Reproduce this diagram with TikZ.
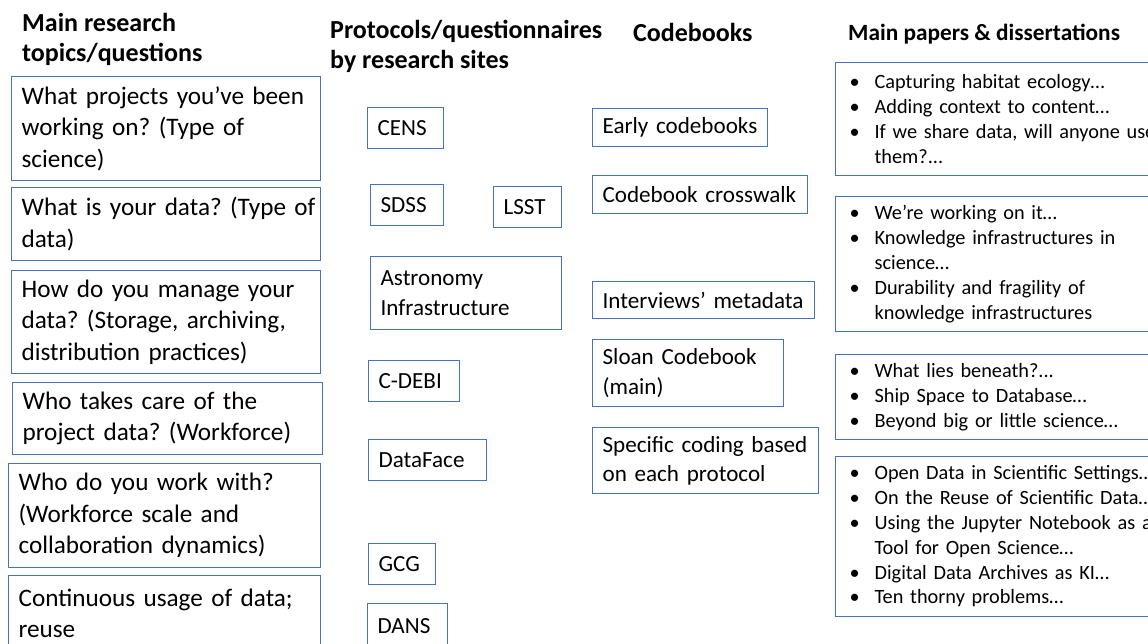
\documentclass[tikz,border=0pt]{standalone}
\usepackage{fontspec}
\setmainfont{Carlito}
\frenchspacing
\definecolor{boxblue}{HTML}{4472C4}
\newcommand\bul{\makebox[25pt][l]{•}}
\newcommand\ind{\hspace*{25pt}}
\begin{document}
\begin{tikzpicture}[x=1pt,y=-1pt,
  box/.style={draw=boxblue, line width=1.2pt, rectangle, anchor=north west, inner xsep=10pt, inner ysep=0pt, align=left, text=black},
  lefttext/.style={font=\fontsize{25.2}{31.5}\selectfont},
  midtext/.style={font=\fontsize{23.1}{29.5}\selectfont},
  righttext/.style={font=\fontsize{20.3}{24.8}\selectfont, inner xsep=14pt},
  head/.style={font=\fontsize{26}{30}\selectfont\bfseries, anchor=base west, align=left, inner sep=0pt},
  headsmall/.style={head, font=\fontsize{23.3}{28}\selectfont\bfseries}]
\useasboundingbox (0,0) rectangle (1148,643);
\clip (0,0) rectangle (1148,643);
\fill[white] (0,0) rectangle (1148,643);

% headers (base anchor = baseline of the last line)
\node[head] (h1) at (22,61) {Main research\\topics/questions};
\node[head] (h2) at (330,68) {Protocols/questionnaires\\by research sites};
\node[head] (h3) at (633,41) {Codebooks};
\node[headsmall] (h4) at (848,40) {Main papers \& dissertations};

% left column
\node[box, lefttext, minimum width=309pt, minimum height=104pt, text width=289pt] (q1) at (11,76) {What projects you’ve been\\working on? (Type of\\science)};
\node[box, lefttext, minimum width=309pt, minimum height=73pt, text width=289pt] (q2) at (11,187) {\mbox{What is your data? (Type of}\\data)};
\node[box, lefttext, minimum width=309pt, minimum height=103pt, text width=289pt] (q3) at (11,270) {How do you manage your\\data? (Storage, archiving,\\distribution practices)};
\node[box, lefttext, minimum width=310pt, minimum height=72pt, text width=290pt] (q4) at (12,382) {Who takes care of the\\project data? (Workforce)};
\node[box, lefttext, minimum width=312pt, minimum height=104pt, text width=292pt] (q5) at (8,463) {Who do you work with?\\(Workforce scale and\\collaboration dynamics)};
\node[box, lefttext, minimum width=312pt, minimum height=75pt, text width=292pt] (q6) at (8,575) {Continuous usage of data;\\reuse};

% protocols
\node[box, midtext, minimum width=76pt, minimum height=41pt, text width=56pt] (cens) at (367,107) {CENS};
\node[box, midtext, minimum width=73pt, minimum height=41pt, text width=53pt] (sdss) at (370,184) {SDSS};
\node[box, midtext, minimum width=68pt, minimum height=41pt, text width=48pt] (lsst) at (493,186) {LSST};
\node[box, midtext, minimum width=191pt, minimum height=73pt, text width=171pt] (astro) at (370,256) {Astronomy\\Infrastructure};
\node[box, midtext, minimum width=91pt, minimum height=41pt, text width=71pt] (cdebi) at (368,360) {C-DEBI};
\node[box, midtext, minimum width=118pt, minimum height=41pt, text width=98pt] (dataface) at (368,439) {DataFace};
\node[box, midtext, minimum width=67pt, minimum height=41pt, text width=47pt] (gcg) at (368,543) {GCG};
\node[box, midtext, minimum width=80pt, minimum height=44pt, text width=60pt] (dans) at (367,603) {DANS};

% codebooks
\node[box, midtext, minimum width=175pt, minimum height=38pt, text width=155pt] (early) at (592,108) {Early codebooks};
\node[box, midtext, minimum width=215pt, minimum height=38pt, text width=195pt] (cross) at (592,175) {Codebook crosswalk};
\node[box, midtext, minimum width=222pt, minimum height=37pt, text width=202pt] (interv) at (592,281) {Interviews’ metadata};
\node[box, midtext, minimum width=191pt, minimum height=67pt, text width=171pt] (sloan) at (592,339) {Sloan Codebook\\(main)};
\node[box, midtext, minimum width=226pt, minimum height=66pt, text width=206pt] (specific) at (592,427) {Specific coding based\\on each protocol};

% papers
\node[box, righttext, minimum width=360pt, minimum height=113pt, text width=332pt] (p1) at (835,62) {\bul Capturing habitat ecology…\\\bul Adding context to content…\\\bul If we share data, will anyone use\\\ind them?...};
\node[box, righttext, minimum width=360pt, minimum height=135pt, text width=332pt] (p2) at (835,196) {\bul We’re working on it…\\\bul Knowledge infrastructures in\\\ind science…\\\bul Durability and fragility of\\\ind knowledge infrastructures};
\node[box, righttext, minimum width=360pt, minimum height=85pt, text width=332pt] (p3) at (835,354) {\bul What lies beneath?...\\\bul Ship Space to Database…\\\bul Beyond big or little science…};
\node[box, righttext, minimum width=360pt, minimum height=160pt, text width=332pt] (p4) at (835,456) {\bul Open Data in Scientific Settings…\\\bul On the Reuse of Scientific Data…\\\bul Using the Jupyter Notebook as a\\\ind Tool for Open Science…\\\bul Digital Data Archives as KI…\\\bul Ten thorny problems…};
\end{tikzpicture}
\end{document}
